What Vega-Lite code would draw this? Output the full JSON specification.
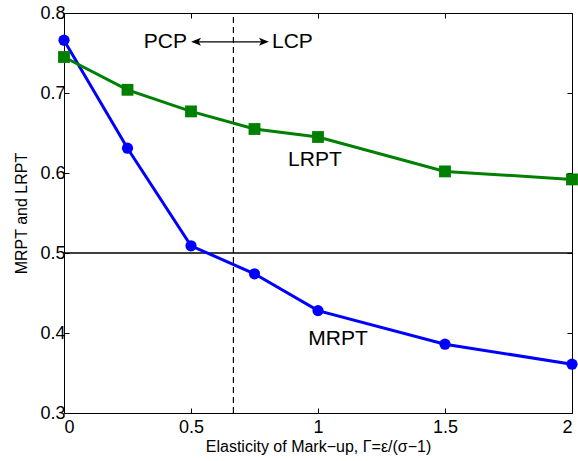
{
  "$schema": "https://vega.github.io/schema/vega-lite/v6.json",
  "width": 508,
  "height": 400,
  "autosize": {"type": "none"},
  "padding": {"left": 64, "top": 13, "right": 6, "bottom": 48},
  "background": "white",
  "config": {
    "font": "Liberation Sans",
    "view": {"stroke": "black", "strokeWidth": 1},
    "axis": {"grid": false, "domain": false, "tickColor": "black", "labelColor": "black", "titleColor": "black", "tickSize": -5, "labelFont": "Liberation Sans", "titleFont": "Liberation Sans", "labelFontSize": 18, "titleFontSize": 16, "titleFontWeight": "normal"}
  },
  "resolve": {"axis": {"x": "independent", "y": "independent"}},
  "datasets": {
    "series": [
      {"x": 0, "y": 0.766, "s": "MRPT"},
      {"x": 0.25, "y": 0.631, "s": "MRPT"},
      {"x": 0.5, "y": 0.509, "s": "MRPT"},
      {"x": 0.75, "y": 0.474, "s": "MRPT"},
      {"x": 1, "y": 0.428, "s": "MRPT"},
      {"x": 1.5, "y": 0.386, "s": "MRPT"},
      {"x": 2, "y": 0.361, "s": "MRPT"},
      {"x": 0, "y": 0.745, "s": "LRPT"},
      {"x": 0.25, "y": 0.704, "s": "LRPT"},
      {"x": 0.5, "y": 0.677, "s": "LRPT"},
      {"x": 0.75, "y": 0.655, "s": "LRPT"},
      {"x": 1, "y": 0.645, "s": "LRPT"},
      {"x": 1.5, "y": 0.602, "s": "LRPT"},
      {"x": 2, "y": 0.592, "s": "LRPT"}
    ]
  },
  "layer": [
    {
      "data": {"values": [{"x": 0, "x2": 2, "y": 0.5}]},
      "mark": {"type": "rule", "color": "black", "strokeWidth": 1.3},
      "encoding": {
        "x": {"field": "x", "type": "quantitative", "scale": {"domain": [0, 2], "nice": false}, "axis": {"orient": "bottom", "values": [0, 0.5, 1, 1.5, 2], "format": "~g", "title": "Elasticity of Mark−up, Γ=ε/(σ−1)", "labelPadding": 10, "titlePadding": 2}},
        "x2": {"field": "x2"},
        "y": {"field": "y", "type": "quantitative", "scale": {"domain": [0.3, 0.8], "nice": false, "zero": false}, "axis": {"orient": "left", "values": [0.3, 0.4, 0.5, 0.6, 0.7, 0.8], "format": ".1f", "title": "MRPT and LRPT", "labelPadding": 4, "titlePadding": 10}}
      }
    },
    {
      "data": {"values": [{"x": 0, "y": 0.3}]},
      "mark": {"type": "point", "opacity": 0},
      "encoding": {
        "x": {"field": "x", "type": "quantitative", "axis": {"orient": "top", "values": [0, 0.5, 1, 1.5, 2], "labels": false, "title": null}},
        "y": {"field": "y", "type": "quantitative", "axis": {"orient": "right", "values": [0.3, 0.4, 0.5, 0.6, 0.7, 0.8], "labels": false, "title": null}}
      }
    },
    {
      "data": {"values": [{"x": 0.667, "y": 0.3, "y2": 0.8}]},
      "mark": {"type": "rule", "color": "black", "strokeWidth": 1.2, "strokeDash": [6, 4]},
      "encoding": {
        "x": {"field": "x", "type": "quantitative", "axis": null},
        "y": {"field": "y", "type": "quantitative", "axis": null},
        "y2": {"field": "y2"}
      }
    },
    {
      "data": {"name": "series"},
      "mark": {"type": "line", "strokeWidth": 3},
      "encoding": {
        "x": {"field": "x", "type": "quantitative", "axis": null},
        "y": {"field": "y", "type": "quantitative", "axis": null},
        "color": {"field": "s", "type": "nominal", "scale": {"domain": ["MRPT", "LRPT"], "range": ["#0000ff", "#008000"]}, "legend": null}
      }
    },
    {
      "data": {"name": "series"},
      "transform": [{"filter": "datum.s === 'MRPT'"}],
      "mark": {"type": "point", "filled": true, "opacity": 1, "shape": "circle", "size": 125, "color": "#0000ff"},
      "encoding": {
        "x": {"field": "x", "type": "quantitative", "axis": null},
        "y": {"field": "y", "type": "quantitative", "axis": null}
      }
    },
    {
      "data": {"name": "series"},
      "transform": [{"filter": "datum.s === 'LRPT'"}],
      "mark": {"type": "point", "filled": true, "opacity": 1, "shape": "square", "size": 140, "color": "#008000"},
      "encoding": {
        "x": {"field": "x", "type": "quantitative", "axis": null},
        "y": {"field": "y", "type": "quantitative", "axis": null}
      }
    },
    {
      "data": {"values": [{"x": 0.515, "x2": 0.79, "y": 0.764}]},
      "mark": {"type": "rule", "color": "black", "strokeWidth": 1.3},
      "encoding": {
        "x": {"field": "x", "type": "quantitative", "axis": null},
        "x2": {"field": "x2"},
        "y": {"field": "y", "type": "quantitative", "axis": null}
      }
    },
    {
      "data": {"values": [{"x": 0.52, "y": 0.764}]},
      "mark": {"type": "point", "filled": true, "color": "black", "opacity": 1, "size": 100, "shape": "M-1,0 L1,-0.8 L0.5,0 L1,0.8 Z"},
      "encoding": {
        "x": {"field": "x", "type": "quantitative", "axis": null},
        "y": {"field": "y", "type": "quantitative", "axis": null}
      }
    },
    {
      "data": {"values": [{"x": 0.787, "y": 0.764}]},
      "mark": {"type": "point", "filled": true, "color": "black", "opacity": 1, "size": 100, "shape": "M1,0 L-1,-0.8 L-0.5,0 L-1,0.8 Z"},
      "encoding": {
        "x": {"field": "x", "type": "quantitative", "axis": null},
        "y": {"field": "y", "type": "quantitative", "axis": null}
      }
    },
    {
      "data": {"values": [{"x": 0.484, "y": 0.764, "t": "PCP"}]},
      "mark": {"type": "text", "fontSize": 21, "color": "black", "baseline": "middle", "align": "right"},
      "encoding": {
        "x": {"field": "x", "type": "quantitative", "axis": null},
        "y": {"field": "y", "type": "quantitative", "axis": null},
        "text": {"field": "t"}
      }
    },
    {
      "data": {"values": [{"x": 0.819, "y": 0.764, "t": "LCP"}]},
      "mark": {"type": "text", "fontSize": 21, "color": "black", "baseline": "middle", "align": "left"},
      "encoding": {
        "x": {"field": "x", "type": "quantitative", "axis": null},
        "y": {"field": "y", "type": "quantitative", "axis": null},
        "text": {"field": "t"}
      }
    },
    {
      "data": {"values": [
        {"x": 0.988, "y": 0.616, "t": "LRPT"},
        {"x": 1.079, "y": 0.3925, "t": "MRPT"}
      ]},
      "mark": {"type": "text", "fontSize": 21, "color": "black", "baseline": "middle", "align": "center"},
      "encoding": {
        "x": {"field": "x", "type": "quantitative", "axis": null},
        "y": {"field": "y", "type": "quantitative", "axis": null},
        "text": {"field": "t"}
      }
    }
  ]
}
